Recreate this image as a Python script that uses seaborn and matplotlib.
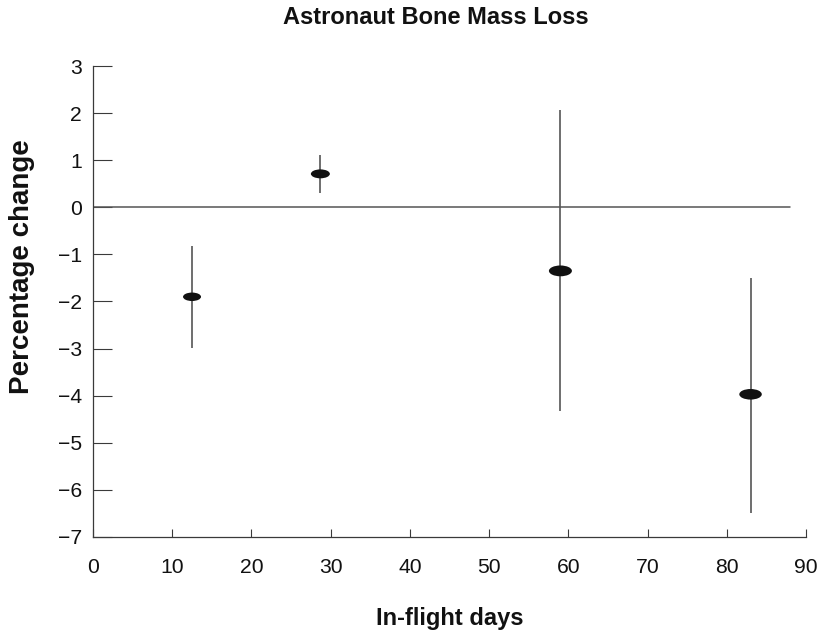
import numpy as np
import matplotlib
matplotlib.use("Agg")
import matplotlib.pyplot as plt
from matplotlib.path import Path
import seaborn as sns

# Data
days = [12.5, 28.7, 59.0, 83.0]
pct_change = [-1.90, 0.71, -1.35, -3.97]
err_low = [-2.98, 0.31, -4.33, -6.48]
err_high = [-0.82, 1.11, 2.07, -1.51]

x_ticks = [0, 10, 20, 30, 40, 50, 60, 70, 80, 90]
y_ticks = [-7, -6, -5, -4, -3, -2, -1, 0, 1, 2, 3]

# marker widths in pixels (style only)
marker_px = [18, 19, 23, 22.5]

sns.set_theme(style="ticks")
plt.rcParams['font.family'] = ['Liberation Sans', 'DejaVu Sans']
plt.rcParams['axes.unicode_minus'] = True

axis_col = "#3a3a3a"

fig = plt.figure(figsize=(8.21, 6.36), dpi=100)
ax = fig.add_axes([93 / 821, 1 - 537 / 636, 713 / 821, 471 / 636])

# zero reference line, stops short of the right edge
ax.axhline(0, xmin=0, xmax=88 / 90, color="#555555", lw=1.1, zorder=1)

yerr = np.array([np.array(pct_change) - np.array(err_low),
                 np.array(err_high) - np.array(pct_change)])
ax.errorbar(days, pct_change, yerr=yerr, fmt="none", ecolor="#555555",
            elinewidth=1.2, capsize=0, zorder=2)

# flat ellipse marker
circ = Path.unit_circle()
ellipse = Path(circ.vertices * np.array([1.0, 0.47]), circ.codes)
sizes = [(w * 0.72) ** 2 for w in marker_px]
sns.scatterplot(x=days, y=pct_change, marker=ellipse, s=sizes, color="#111111",
                edgecolor="none", linewidth=0, ax=ax, zorder=3, legend=False)

ax.set_xlim(0, 90)
ax.set_ylim(-7, 3)
ax.set_xticks(x_ticks)
ax.set_yticks(y_ticks)
ax.set_xticklabels([str(v) for v in x_ticks])
ax.set_yticklabels([str(v).replace("-", "\u2212") for v in y_ticks])

for s in ["top", "right"]:
    ax.spines[s].set_visible(False)
for s in ["left", "bottom"]:
    ax.spines[s].set_color(axis_col)
    ax.spines[s].set_linewidth(0.9)

ax.tick_params(axis="y", direction="in", length=13.7, width=0.8, color=axis_col,
               pad=8, labelsize=15.2, labelcolor="#111111")
ax.tick_params(axis="x", direction="in", length=5.8, width=0.8, color=axis_col,
               pad=15, labelsize=15.2, labelcolor="#111111")

ax.set_xlabel("In-flight days", fontsize=17, fontweight="bold", color="#111111")
ax.xaxis.set_label_coords(0.5, -0.149)
ax.set_ylabel("Percentage change", fontsize=20, fontweight="bold", color="#111111")
ax.yaxis.set_label_coords(-0.082, 0.575)

fig.text(435.5 / 821, 1 - 18 / 636, "Astronaut Bone Mass Loss", ha="center",
         va="center", fontsize=17, fontweight="bold", color="#111111")

fig.savefig("out.png", dpi=100)
